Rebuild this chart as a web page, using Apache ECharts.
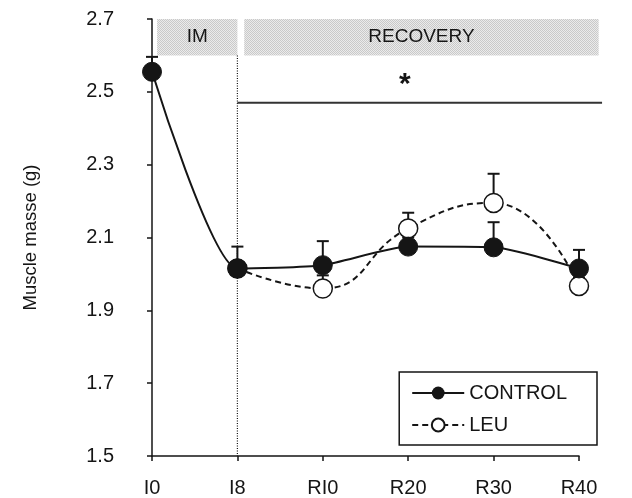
<!DOCTYPE html>
<html>
<head>
<meta charset="utf-8">
<script src="https://cdn.jsdelivr.net/npm/echarts@6/dist/echarts.min.js"></script>
<style>
  html, body { margin: 0; padding: 0; background: #fff; }
  #chart { width: 632px; height: 498px; }
</style>
</head>
<body>
<div id="chart"></div>
<script>
// time points
const timeLabels = ['I0', 'I8', 'RI0', 'R20', 'R30', 'R40'];
// means and top of the error bars (g)
const controlMean = [2.555, 2.015, 2.024, 2.075, 2.073, 2.015];
const controlTop = [2.596, 2.075, 2.09, 2.10, 2.142, 2.066];
const leuMean = [null, 2.015, 1.96, 2.125, 2.195, 1.967];
const leuTop = [null, 2.03, 1.996, 2.168, 2.275, 1.99];
// phase bands on top of the plot [from, to] on the time axis
const phaseNames = ['IM', 'RECOVERY'];
const phaseFrom = [0.06, 1.08];
const phaseTo = [1, 5.23];
const phaseBand = [2.6, 2.7];
// significance bar
const sigFrom = 1;
const sigTo = 5.27;
const sigLevel = 2.47;
const sigMark = '*';

const font = 'Liberation Sans, Arial, sans-serif';
const ink = '#151515';

const chart = echarts.init(document.getElementById('chart'));

const pairs = (vals) => vals.map((v, i) => [i, v]).filter(d => d[1] != null);

function errorBars(name, means, tops) {
  return {
    type: 'custom',
    name,
    silent: true,
    z: 1,
    data: means.map((m, i) => [i, m, tops[i]]).filter(d => d[1] != null),
    encode: { x: 0, y: [1, 2] },
    renderItem(params, api) {
      const p0 = api.coord([api.value(0), api.value(1)]);
      const p1 = api.coord([api.value(0), api.value(2)]);
      return {
        type: 'group',
        children: [
          { type: 'line', shape: { x1: p0[0], y1: p0[1], x2: p1[0], y2: p1[1] }, style: { stroke: ink, lineWidth: 2 } },
          { type: 'line', shape: { x1: p1[0] - 6, y1: p1[1], x2: p1[0] + 6, y2: p1[1] }, style: { stroke: ink, lineWidth: 2 } },
        ],
      };
    },
  };
}

const option = {
  animation: false,
  grid: { left: 152, right: 53, top: 19, bottom: 41 },
  legend: {
    data: ['CONTROL', 'LEU'],
    orient: 'vertical',
    right: 35,
    bottom: 53,
    borderColor: ink,
    borderWidth: 1.5,
    borderRadius: 0,
    padding: [11, 30, 10, 12],
    itemWidth: 52,
    itemHeight: 16,
    itemGap: 12,
    textStyle: { fontFamily: font, fontSize: 20, color: ink },
  },
  xAxis: {
    type: 'value',
    min: 0,
    max: 5,
    interval: 1,
    splitLine: { show: false },
    axisLine: { lineStyle: { color: ink, width: 1.5 } },
    axisTick: { length: 5, lineStyle: { color: ink, width: 1.5 } },
    axisLabel: {
      margin: 22,
      fontFamily: font,
      fontSize: 20,
      color: ink,
      formatter: v => timeLabels[v],
    },
  },
  yAxis: {
    type: 'value',
    min: 1.5,
    max: 2.7,
    interval: 0.2,
    name: 'Muscle masse (g)',
    nameLocation: 'middle',
    nameRotate: 90,
    nameGap: 112,
    nameTextStyle: { fontFamily: font, fontSize: 18.5, color: ink },
    splitLine: { show: false },
    axisLine: { show: true, lineStyle: { color: ink, width: 1.5 } },
    axisTick: { show: true, length: 5, lineStyle: { color: ink, width: 1.5 } },
    axisLabel: {
      margin: 38,
      fontFamily: font,
      fontSize: 20,
      color: ink,
      formatter: v => v.toFixed(1),
    },
  },
  series: [
    errorBars('controlErr', controlMean, controlTop),
    errorBars('leuErr', leuMean, leuTop),
    {
      name: 'CONTROL',
      type: 'line',
      z: 4,
      data: pairs(controlMean),
      smooth: 0.2,
      symbol: 'circle',
      symbolSize: 19,
      itemStyle: { color: ink, borderColor: ink },
      lineStyle: { color: ink, width: 2 },
    },
    {
      name: 'LEU',
      type: 'line',
      z: 3,
      data: pairs(leuMean),
      smooth: 0.5,
      symbol: 'circle',
      symbolSize: 19,
      itemStyle: { color: '#fff', borderColor: ink, borderWidth: 1.5 },
      lineStyle: { color: ink, width: 2, type: [6, 4] },
    },
  ],
};

chart.setOption(option);

// annotations placed through the axes
const px = (x, y) => chart.convertToPixel({ gridIndex: 0 }, [x, y]);

const tile = document.createElement('canvas');
tile.width = 2;
tile.height = 2;
const g = tile.getContext('2d');
g.fillStyle = '#ebebeb';
g.fillRect(0, 0, 2, 2);
g.fillStyle = '#c9c9c9';
g.fillRect(0, 0, 1, 1);
g.fillRect(1, 1, 1, 1);

const graphics = [];
phaseNames.forEach((name, i) => {
  const a = px(phaseFrom[i], phaseBand[1]);
  const b = px(phaseTo[i], phaseBand[0]);
  graphics.push({
    type: 'rect',
    z: 0,
    shape: { x: a[0], y: a[1], width: b[0] - a[0], height: b[1] - a[1] },
    style: { fill: { image: tile, repeat: 'repeat' } },
  });
  graphics.push({
    type: 'text',
    z: 1,
    x: (a[0] + b[0]) / 2,
    y: (a[1] + b[1]) / 2,
    style: { text: name, font: `19px ${font}`, fill: ink, align: 'center', verticalAlign: 'middle' },
  });
});

const d0 = px(1, phaseBand[0]);
const d1 = px(1, 1.5);
graphics.push({
  type: 'line',
  shape: { x1: d0[0], y1: d0[1], x2: d1[0], y2: d1[1] },
  style: { stroke: ink, lineWidth: 1.2, lineDash: [1, 1.5] },
});

const s0 = px(sigFrom, sigLevel);
const s1 = px(sigTo, sigLevel);
graphics.push({
  type: 'line',
  shape: { x1: s0[0], y1: s0[1], x2: s1[0], y2: s1[1] },
  style: { stroke: '#333', lineWidth: 2 },
});
const st = px(2.96, 2.52);
graphics.push({
  type: 'text',
  x: st[0],
  y: st[1],
  style: { text: sigMark, font: `bold 30px ${font}`, fill: ink, align: 'center', verticalAlign: 'middle' },
});

chart.setOption({ graphic: graphics });
</script>
</body>
</html>
